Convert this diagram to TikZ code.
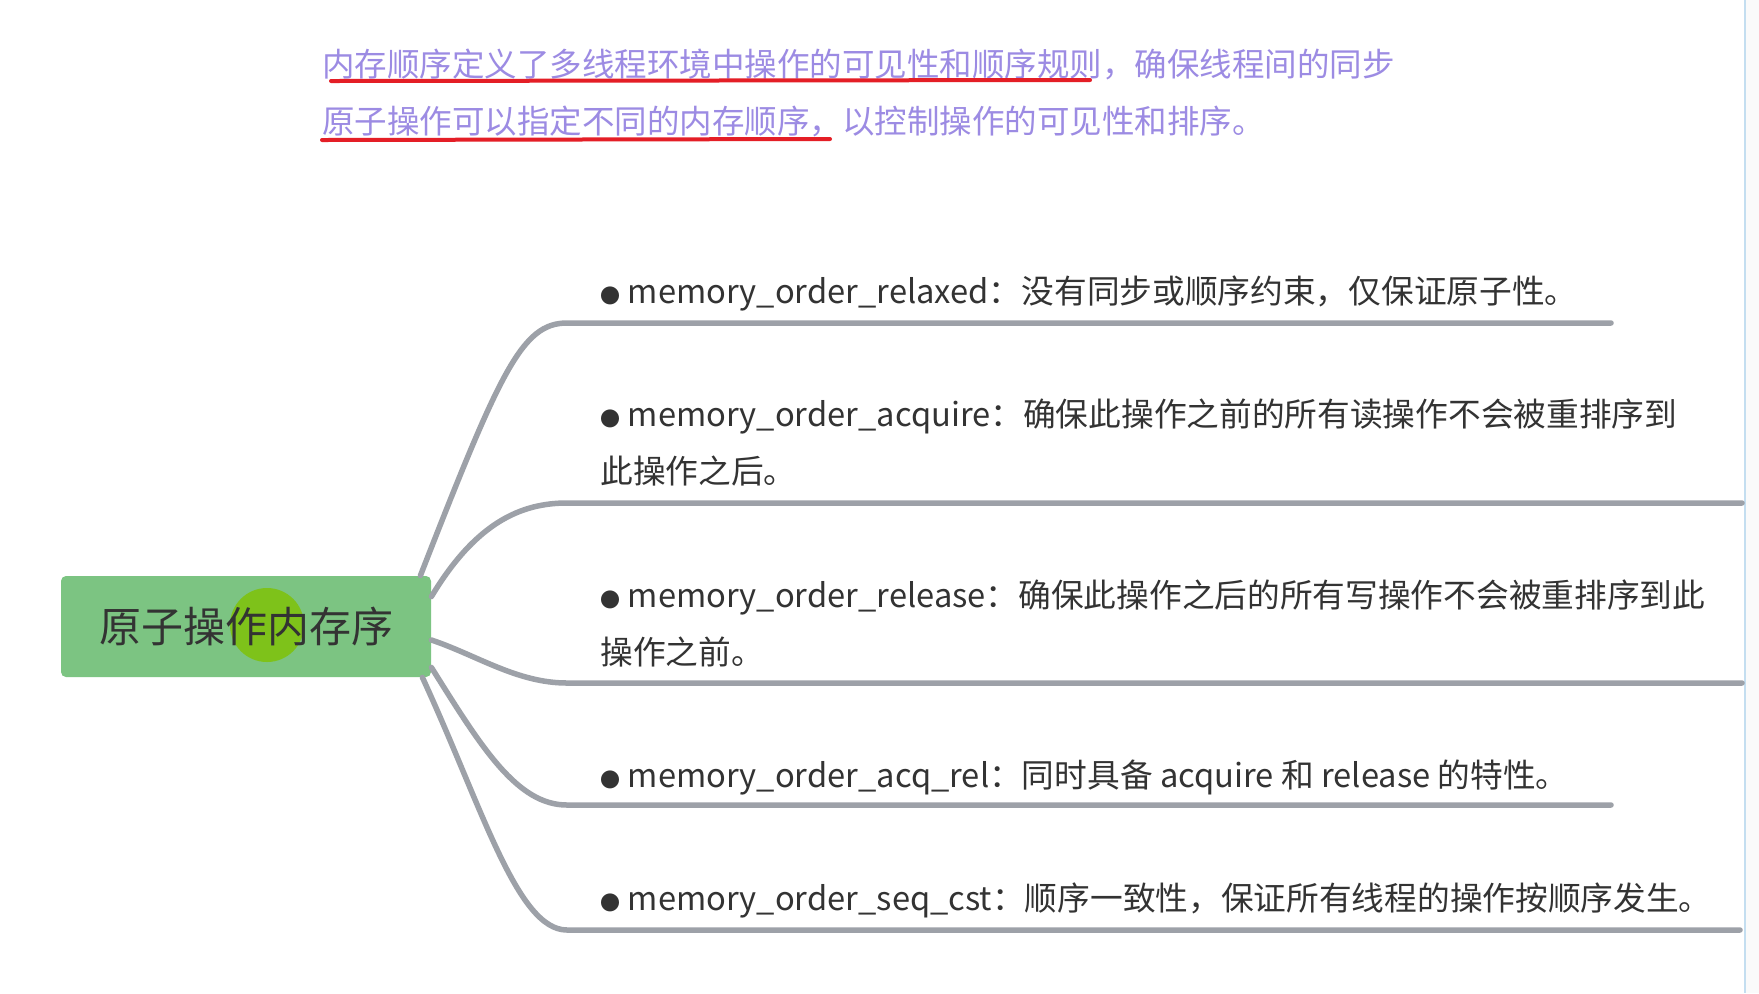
\documentclass[tikz,border=0pt]{standalone}
\usepackage{fontspec}
\setmainfont{Noto Sans CJK SC}
\usetikzlibrary{positioning}

\definecolor{rootgreen}{HTML}{7CC482}
\definecolor{hilite}{HTML}{7EC21A}
\definecolor{branchgray}{HTML}{9DA1A8}
\definecolor{introviolet}{HTML}{9C8BE3}
\definecolor{markred}{HTML}{E41E26}
\definecolor{inktext}{HTML}{333333}
\definecolor{edgeblue}{HTML}{C4DEF0}

\newcommand{\dotmark}{{\fontsize{10pt}{10pt}\selectfont ●}}

\begin{document}
\begin{tikzpicture}[x=0.5pt, y=-0.5pt,
  rootbox/.style={fill=rootgreen, rounded corners=2.5pt, minimum width=185pt, minimum height=50.5pt, text=inktext, font=\fontsize{21pt}{25pt}\selectfont,
    path picture={\fill[hilite] ([xshift=10.5pt,yshift=0.75pt]path picture bounding box.center) circle (18.5pt);}},
  item/.style={anchor=west, inner sep=0pt, align=left, text=inktext, font=\fontsize{16.35pt}{28.5pt}\selectfont},
  intro/.style={anchor=west, inner sep=0pt, text=introviolet, font=\fontsize{16.25pt}{20pt}\selectfont},
  branch/.style={draw=branchgray, line width=2.75pt, line cap=round},
  redmark/.style={draw=markred, line width=2pt, line cap=round}]
  \useasboundingbox (0,0) rectangle (1759,993);
  \fill[white] (0,0) rectangle (1759,993);
  \fill[black!2] (1745,0) rectangle (1759,993);
  \draw[edgeblue, line width=0.75pt] (1745,0) -- (1745,993);

  % intro text with hand-drawn marks
  \node[intro] (intro1) at (322,64) {内存顺序定义了多线程环境中操作的可见性和顺序规则，确保线程间的同步};
  \node[intro] (intro2) at (322,121) {原子操作可以指定不同的内存顺序，以控制操作的可见性和排序。};
  \coordinate (mark1a) at (331,81);
  \coordinate (mark1b) at (1090,80);
  \coordinate (mark2a) at (322,140);
  \coordinate (mark2b) at (830,139);
  \draw[redmark] (mark1a) -- (mark1b);
  \draw[redmark] (mark2a) -- (mark2b);

  % root
  \node[rootbox] (root) at (246,626.5) {原子操作内存序};

  % branch ends
  \coordinate (knee1) at (567,323);  \coordinate (end1) at (1611,323);
  \coordinate (knee2) at (567,503);  \coordinate (end2) at (1742,503);
  \coordinate (knee3) at (567,683);  \coordinate (end3) at (1742,683);
  \coordinate (knee4) at (567,805);  \coordinate (end4) at (1611,805);
  \coordinate (knee5) at (567,930);  \coordinate (end5) at (1740,930);

  \draw[branch] ([xshift=-5.5pt]root.north east) .. controls +(80,-205) and +(-45,0) .. (knee1) -- (end1);
  \draw[branch] ([yshift=-10.5pt]root.north east) .. controls +(45,-75) and +(-45,0) .. (knee2) -- (end2);
  \draw[branch] ([yshift=-6.75pt]root.east) .. controls +(45,15) and +(-50,0) .. (knee3) -- (end3);
  \draw[branch] ([yshift=5pt]root.south east) .. controls +(50,80) and +(-50,0) .. (knee4) -- (end4);
  \draw[branch] ([xshift=-4.5pt]root.south east) .. controls +(60,130) and +(-50,0) .. (knee5) -- (end5);

  % items
  \node[item] (relaxed) at (600,293.5) {\dotmark\ memory\_order\_relaxed：没有同步或顺序约束，仅保证原子性。};
  \node[item] (acquire) at (600,443) {\dotmark\ memory\_order\_acquire：确保此操作之前的所有读操作不会被重排序到\\此操作之后。};
  \node[item] (release) at (600,623) {\dotmark\ memory\_order\_release：确保此操作之后的所有写操作不会被重排序到此\\操作之前。};
  \node[item] (acqrel) at (600,777.5) {\dotmark\ memory\_order\_acq\_rel：同时具备 acquire 和 release 的特性。};
  \node[item] (seqcst) at (600,900.5) {\dotmark\ memory\_order\_seq\_cst：顺序一致性，保证所有线程的操作按顺序发生。};
\end{tikzpicture}
\end{document}
